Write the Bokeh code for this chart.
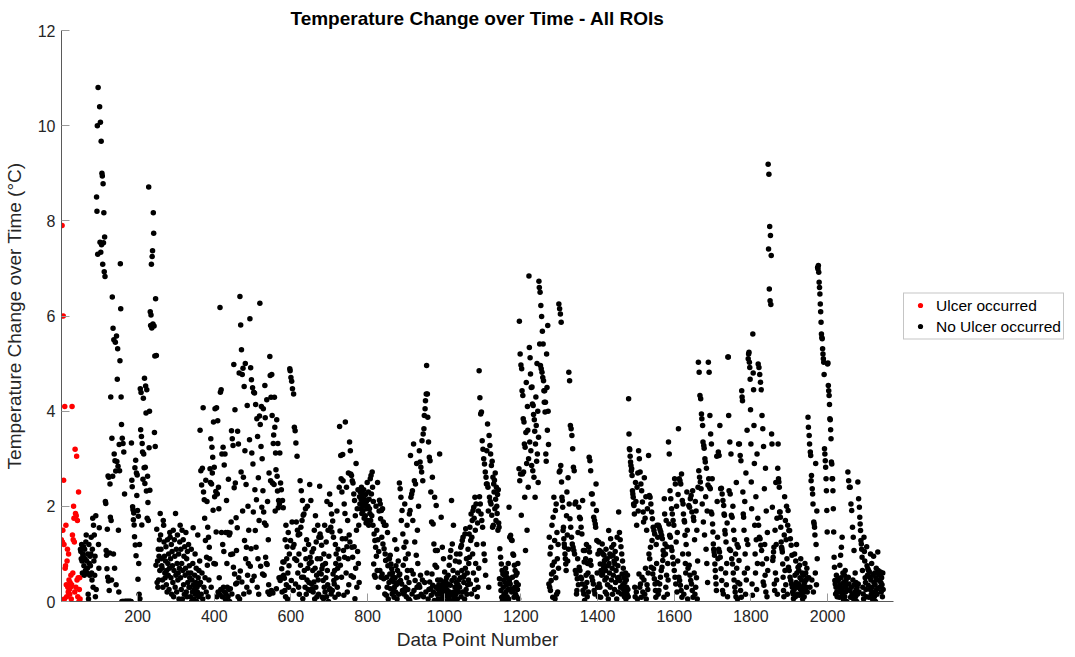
import numpy as np
from bokeh.plotting import figure
from bokeh.models import Range1d, Legend, LegendItem, FixedTicker
from bokeh.embed import file_html
from bokeh.resources import INLINE

# ---------------- data ----------------
# "Ulcer occurred" series: data points 1..50
ulcer_y = [1.3, 0.0, 7.9, 1.25, 1.5, 6.0, 2.55, 1.2, 0.05, 4.1,
           0.7, 0.75, 1.6, 0.35, 0.1, 0.85, 1.1, 0.3, 0.2, 1.0,
           0.45, 0.25, 0.15, 0.4, 0.3, 0.55, 0.05, 0.35, 4.1, 1.4,
           0.6, 1.3, 2.0, 1.75, 1.25, 0.2, 3.2, 1.85, 0.3, 1.8,
           3.05, 0.45, 1.7, 0.1, 0.5, 2.3, 0.0, 0.25, 0.5, 0.05]
ulcer_first_point = 1

# "No Ulcer occurred" series, consecutive data points starting at 51,
# split into segments of 260 points (first point number of each below)
no_ulcer_seg_a = [
    1.1, 1.05, 0.9, 1.2, 0.85, 0.6, 1.0, 0.95, 1.15, 0.75, 0.55, 1.1, 0.9, 0.65, 1.25, 1.4, 0.85, 0.6, 0.7, 1.0, 0.15, 0.05, 1.2, 0.8, 0.55, 0.95,
    0.75, 1.0, 1.35, 0.6, 0.45, 1.1, 1.75, 0.3, 1.6, 0.85, 1.4, 0.55, 0.95, 0.1, 1.8, 0.25, 8.5, 8.2, 10.0, 7.3, 10.8, 1.2, 0.7, 1.55, 10.4, 7.55,
    10.07, 7.34, 9.67, 7.5, 9.0, 8.94, 7.09, 8.78, 7.54, 8.17, 6.93, 7.66, 6.83, 2.1, 2.06, 1.07, 0.97, 0.69, 1.52, 0.51, 2.64, 0.43, 2.61, 0.23, 1.02, 2.47,
    1.77, 4.3, 1.7, 0.45, 3.43, 6.4, 2.63, 5.74, 1.0, 5.5, 3.1, 0.7, 2.96, 5.45, 2.74, 0.35, 5.58, 2.94, 4.67, 5.31, 2.84, 1.5, 0.2, 3.3, 2.75, 5.06,
    7.1, 6.15, 4.3, 3.72, 0.0, 3.43, 0.0, 3.32, 0.0, 3.14, 0.0, 2.26, 0.0, 0.0, 0.0, 0.0, 0.0, 0.0, 0.0, 0.0, 0.0, 0.0, 0.0, 0.0, 0.0, 0.0,
    0.0, 0.0, 0.0, 3.33, 2.55, 2.41, 1.99, 1.93, 1.72, 1.86, 1.61, 1.36, 2.81, 1.19, 2.97, 0.96, 2.7, 2.23, 2.66, 1.91, 0.47, 1.79, 0.8, 0.15, 1.2, 0.06,
    4.47, 3.61, 4.39, 3.47, 1.61, 3.32, 3.14, 2.57, 4.27, 3.1, 2.81, 4.69, 2.48, 2.82, 4.53, 3.96, 2.32, 4.45, 1.75, 2.63, 2.08, 1.7, 8.71, 3.23, 4.0, 2.34,
    6.09, 5.8, 6.02, 7.09, 5.75, 7.25, 7.37, 5.83, 8.17, 7.74, 5.79, 3.55, 5.16, 3.26, 6.36, 0.76, 5.17, 1.52, 0.4, 0.85, 0.3, 1.1, 0.45, 0.95, 1.3, 0.65,
    1.85, 1.4, 1.1, 0.9, 0.75, 0.7, 0.45, 0.3, 1.7, 1.6, 1.25, 0.95, 0.6, 0.5, 0.85, 1.15, 0.35, 0.65, 0.2, 1.3, 0.8, 0.55, 1.0, 0.25, 0.7, 1.45,
    1.35, 0.9, 0.5, 1.2, 0.15, 1.05, 0.75, 0.4, 1.5, 0.1, 0.65, 1.3, 0.95, 0.3, 1.85, 0.55, 1.1, 0.2, 0.8, 1.4, 0.45, 0.6, 1.0, 0.05, 0.7, 1.25,
]
no_ulcer_seg_b = [
    1.6, 0.5, 1.1, 0.25, 0.8, 1.5, 0.05, 0.65, 1.3, 0.35, 0.95, 0.15, 1.15, 0.55, 0.7, 1.45, 0.2, 0.9, 0.1, 1.05, 0.4, 0.6, 1.2, 0.3, 0.75, 0.5,
    0.3, 0.1, 0.6, 1.1, 0.0, 0.45, 0.2, 0.8, 1.55, 0.35, 0.05, 0.25, 0.55, 1.0, 0.15, 0.4, 0.7, 0.0, 0.3, 0.2, 1.4, 0.5, 0.1, 0.65, 0.35, 0.85,
    3.6, 0.4, 2.75, 0.15, 2.45, 0.6, 2.8, 0.05, 4.07, 2.3, 0.3, 2.14, 1.75, 0.5, 1.28, 2.55, 0.2, 0.93, 2.1, 0.76, 1.56, 0.1, 1.35, 0.45, 1.14, 0.9,
    2.79, 2.5, 3.42, 0.3, 2.47, 3.24, 2.7, 3.03, 1.92, 3.77, 0.8, 2.82, 2.2, 4.05, 0.79, 2.31, 1.46, 4.07, 0.1, 2.26, 3.8, 0.2, 2.4, 1.95, 0.5, 0.15,
    6.18, 4.4, 0.25, 4.45, 1.45, 3.1, 0.1, 1.2, 3.24, 0.3, 1.05, 2.87, 0.2, 3.1, 0.05, 1.45, 0.15, 2.12, 0.8, 0.3, 1.45, 0.1, 2.57, 0.25, 1.4, 0.0,
    1.44, 0.27, 0.99, 1.67, 3.59, 0.16, 3.42, 1.0, 3.28, 0.72, 4.98, 2.39, 0.58, 4.03, 2.49, 0.37, 1.76, 1.07, 0.39, 1.55, 3.58, 0.1, 3.31, 0.5, 4.8, 0.05,
    6.41, 0.64, 5.81, 2.72, 5.29, 0.41, 4.77, 1.9, 4.9, 2.61, 0.16, 4.52, 1.28, 3.17, 5.0, 0.9, 2.46, 1.14, 0.3, 4.12, 0.55, 2.0, 0.8, 1.5, 0.2, 3.4,
    5.94, 0.74, 4.91, 1.11, 4.66, 3.12, 0.44, 4.49, 2.89, 1.88, 4.4, 0.53, 4.38, 2.35, 1.49, 4.14, 1.14, 2.14, 3.84, 0.3, 3.47, 0.9, 2.6, 0.15, 1.7, 3.9,
    6.27, 3.72, 0.74, 3.26, 4.1, 1.98, 3.0, 0.58, 2.33, 4.05, 1.88, 0.55, 1.65, 4.54, 3.86, 0.93, 1.6, 0.8, 4.24, 0.78, 2.1, 0.2, 1.3, 0.35, 2.7, 0.15,
    5.15, 4.75, 2.54, 4.29, 0.23, 4.77, 3.91, 2.49, 0.18, 3.32, 3.5, 2.46, 4.29, 3.66, 1.9, 3.12, 2.77, 0.27, 3.82, 2.63, 2.32, 3.32, 1.97, 2.12, 0.5, 2.05,
]
no_ulcer_seg_c = [
    3.12, 0.44, 2.49, 0.51, 2.35, 0.69, 0.2, 2.12, 0.83, 1.97, 0.55, 0.83, 0.49, 0.23, 1.3, 0.1, 1.6, 0.35, 0.9, 1.15, 0.05, 0.6, 1.45, 0.3, 0.75, 1.0,
    4.89, 4.85, 1.28, 4.71, 0.44, 4.63, 1.67, 4.47, 1.14, 0.23, 4.36, 1.2, 3.66, 0.9, 3.59, 0.37, 3.33, 1.67, 0.86, 3.05, 1.5, 0.6, 1.4, 0.3, 1.0, 0.15,
    1.42, 2.54, 0.76, 1.56, 2.33, 0.51, 1.7, 2.12, 0.06, 1.81, 0.51, 1.84, 0.65, 1.1, 0.3, 1.95, 0.9, 0.15, 1.3, 0.45, 2.0, 0.7, 0.25, 1.2, 0.4, 0.8,
    2.46, 0.93, 0.23, 2.12, 0.83, 0.37, 1.04, 0.27, 0.65, 0.2, 1.11, 0.41, 1.5, 0.05, 0.7, 1.8, 0.3, 1.25, 0.55, 0.1, 0.9, 1.6, 0.45, 0.15, 1.35, 0.6,
    2.42, 1.42, 0.9, 1.35, 0.58, 1.18, 0.69, 0.09, 0.76, 0.44, 0.06, 1.0, 0.3, 1.6, 0.2, 0.8, 0.5, 1.25, 0.1, 2.1, 0.65, 0.35, 1.5, 0.0, 0.95, 0.25,
    2.26, 0.27, 2.04, 1.56, 0.16, 1.84, 1.46, 0.23, 1.69, 0.58, 1.35, 0.44, 0.37, 0.65, 0.09, 1.2, 0.8, 1.0, 0.5, 1.9, 0.3, 0.7, 1.1, 0.15, 0.9, 2.4,
    3.68, 1.48, 0.76, 3.07, 2.58, 0.51, 2.3, 1.32, 3.09, 2.54, 1.07, 0.13, 2.05, 0.93, 1.85, 3.77, 1.32, 0.6, 2.4, 1.15, 0.2, 1.7, 0.9, 2.7, 0.35, 1.4,
    3.35, 1.25, 3.17, 2.68, 0.54, 2.65, 1.14, 2.54, 0.93, 2.49, 0.51, 2.26, 1.15, 2.12, 0.06, 1.8, 0.7, 2.9, 1.5, 0.3, 1.95, 1.05, 2.35, 0.8, 1.6, 0.4,
    2.2, 2.05, 2.3, 1.95, 2.15, 2.4, 1.85, 2.1, 2.25, 1.9, 2.0, 2.35, 1.75, 2.15, 2.05, 1.8, 2.25, 1.65, 2.1, 1.95, 2.5, 1.7, 2.0, 2.3, 1.6, 2.15,
    1.95, 1.85, 2.58, 1.7, 2.65, 2.26, 1.8, 2.72, 2.4, 1.6, 2.1, 0.79, 1.42, 0.55, 1.28, 0.51, 1.14, 2.0, 0.95, 1.5, 0.65, 2.5, 1.3, 0.3, 1.05, 1.9,
]
no_ulcer_seg_d = [
    2.13, 0.65, 2.05, 1.74, 0.51, 1.91, 1.35, 0.58, 1.95, 1.21, 1.67, 0.48, 1.11, 1.6, 0.16, 1.0, 0.86, 1.6, 0.13, 0.51, 0.3, 1.45, 0.75, 0.05, 0.9, 0.4,
    0.9, 0.58, 0.97, 0.27, 0.79, 0.44, 0.69, 0.16, 0.6, 0.51, 0.23, 0.41, 0.09, 0.3, 1.3, 0.5, 0.2, 0.75, 0.35, 1.1, 0.05, 0.65, 0.4, 0.85, 0.15, 0.55,
    2.49, 0.58, 2.37, 0.44, 2.19, 1.7, 0.37, 1.91, 0.23, 1.42, 0.76, 0.16, 1.14, 0.2, 2.05, 0.3, 0.9, 1.25, 0.1, 0.5, 1.6, 0.65, 0.25, 1.0, 0.05, 0.4,
    1.84, 0.02, 1.91, 3.07, 2.19, 0.65, 2.26, 0.16, 2.33, 1.7, 0.58, 3.31, 0.23, 2.54, 1.25, 0.44, 2.47, 0.09, 0.97, 2.9, 0.3, 1.5, 0.8, 0.1, 2.0, 0.35,
    3.17, 0.3, 2.93, 0.55, 2.82, 0.15, 2.72, 3.38, 0.45, 2.54, 3.52, 0.1, 3.63, 3.91, 0.4, 4.05, 4.22, 0.2, 4.36, 4.96, 0.6, 4.36, 3.87, 0.05, 3.35, 0.25,
    3.03, 0.41, 2.96, 0.27, 2.3, 0.13, 1.67, 0.58, 2.61, 0.34, 1.63, 0.2, 1.21, 0.02, 2.19, 0.76, 1.07, 0.3, 2.02, 0.72, 0.15, 1.07, 0.45, 0.05, 0.25, 0.35,
    0.3, 3.1, 0.15, 0.45, 0.2, 1.77, 0.05, 0.35, 1.14, 0.25, 0.1, 0.9, 0.4, 0.2, 0.62, 0.0, 0.3, 0.44, 0.15, 0.5, 0.25, 0.1, 0.37, 0.55, 0.2, 0.06,
    0.76, 0.2, 0.93, 0.34, 1.07, 0.13, 2.12, 0.44, 1.21, 0.02, 0.65, 1.6, 0.2, 0.5, 0.1, 0.3, 0.85, 0.15, 0.4, 1.0, 0.25, 0.05, 0.6, 0.35, 0.2, 0.45,
    0.83, 0.3, 1.0, 0.5, 1.14, 0.1, 1.18, 0.65, 1.28, 0.2, 1.35, 0.51, 0.4, 0.55, 0.05, 1.42, 0.7, 1.53, 0.25, 0.9, 0.15, 0.6, 0.35, 1.1, 0.45, 0.8,
    1.42, 0.93, 1.56, 0.37, 1.28, 1.84, 0.16, 1.35, 1.7, 1.0, 1.91, 0.6, 1.98, 1.75, 0.25, 2.19, 1.5, 0.8, 2.05, 0.45, 1.2, 0.1, 1.65, 0.3, 1.9, 0.7,
]
no_ulcer_seg_e = [
    4.85, 2.2, 4.28, 2.05, 3.94, 1.84, 3.98, 1.7, 3.38, 1.56, 3.2, 1.21, 3.0, 1.0, 2.89, 0.86, 2.72, 0.55, 2.61, 2.47, 3.17, 2.47, 3.73, 2.4, 1.9, 0.3,
    3.49, 2.19, 3.28, 2.1, 3.1, 2.05, 2.86, 1.81, 2.95, 1.56, 2.61, 1.6, 2.47, 2.3, 2.55, 1.95, 2.7, 2.15, 1.7, 2.4, 2.0, 1.85, 2.25, 1.5, 2.35, 1.65,
    1.56, 0.48, 1.11, 0.37, 0.93, 0.23, 0.79, 0.09, 0.65, 0.02, 0.58, 0.3, 0.45, 0.15, 0.55, 0.05, 0.4, 0.7, 0.2, 0.6, 0.35, 0.1, 0.5, 0.25, 0.8, 0.05,
    1.98, 0.44, 1.35, 0.37, 1.39, 0.27, 1.3, 0.2, 1.28, 0.51, 1.0, 0.23, 0.97, 0.09, 0.76, 0.3, 0.65, 0.15, 0.55, 0.4, 0.1, 0.6, 0.25, 0.8, 0.35, 0.05,
    2.79, 5.89, 2.54, 5.2, 2.68, 4.97, 1.81, 4.89, 4.43, 2.68, 4.33, 3.84, 2.72, 3.77, 3.31, 2.19, 3.24, 1.07, 3.55, 4.6, 2.9, 1.5, 4.1, 3.6, 2.4, 3.0,
    6.84, 5.34, 3.35, 5.12, 4.78, 3.17, 4.5, 2.86, 4.51, 4.15, 2.75, 4.12, 3.93, 2.61, 3.82, 3.58, 2.19, 3.31, 4.3, 3.7, 2.95, 5.0, 3.1, 4.0, 2.5, 3.45,
    6.73, 6.6, 5.41, 6.5, 4.96, 6.22, 4.89, 5.99, 4.82, 5.68, 4.71, 5.41, 4.64, 4.43, 4.19, 4.43, 3.98, 4.19, 3.1, 2.95, 5.2, 4.5, 3.6, 5.8, 4.0, 3.3,
    0.37, 1.35, 0.3, 1.0, 0.23, 1.14, 0.44, 0.58, 1.6, 0.76, 0.09, 1.77, 0.62, 2.19, 0.83, 1.28, 0.06, 1.91, 0.5, 2.05, 0.15, 1.45, 0.9, 0.2, 1.2, 0.7,
    6.25, 2.72, 6.15, 2.75, 6.04, 2.86, 5.87, 2.51, 2.19, 2.12, 1.98, 1.49, 1.56, 1.32, 1.21, 1.14, 1.0, 0.9, 0.79, 0.65, 1.8, 2.3, 1.4, 0.85, 2.6, 1.1,
    4.82, 2.05, 4.64, 1.74, 3.7, 1.56, 3.63, 1.35, 3.49, 1.21, 3.21, 1.14, 2.82, 1.07, 2.75, 1.0, 2.05, 0.65, 2.09, 0.58, 0.16, 0.23, 0.48, 0.9, 1.45, 0.35,
]
no_ulcer_seg_f = [
    1.98, 0.72, 1.77, 0.65, 1.74, 0.51, 1.56, 0.48, 1.42, 0.37, 2.12, 0.23, 1.07, 0.16, 0.83, 0.02, 1.07, 0.3, 0.9, 0.55, 1.2, 0.4, 0.1, 0.8, 0.6, 0.2,
    1.14, 3.03, 1.04, 2.96, 0.86, 2.75, 0.76, 2.26, 0.51, 2.26, 0.44, 2.05, 0.37, 1.77, 0.23, 1.7, 0.16, 1.63, 1.56, 2.47, 1.91, 1.28, 0.6, 0.3, 1.0, 0.1,
    1.25, 0.37, 1.07, 0.3, 0.79, 0.09, 0.65, 1.04, 0.55, 1.21, 0.58, 1.0, 0.79, 0.72, 0.97, 0.86, 0.45, 0.2, 0.65, 1.1, 0.5, 0.15, 0.9, 0.35, 0.75, 0.05,
    1.49, 0.8, 0.6, 1.0, 0.3, 1.32, 0.95, 0.45, 1.14, 0.7, 0.15, 0.97, 0.55, 1.2, 0.85, 0.25, 0.79, 1.05, 0.4, 0.65, 0.9, 0.05, 1.35, 0.5, 0.75, 0.2,
    1.88, 0.51, 1.45, 0.44, 1.3, 0.3, 1.15, 0.16, 1.0, 0.58, 0.85, 0.35, 0.7, 0.25, 0.5, 0.1, 0.4, 0.2, 0.6, 0.05, 0.45, 0.3, 0.15, 0.55, 0.25, 0.1,
    4.26, 3.52, 3.21, 3.19, 3.05, 2.93, 2.86, 2.75, 2.79, 2.65, 2.33, 2.26, 2.19, 2.05, 2.02, 1.84, 0.3, 0.1, 2.5, 2.1, 0.2, 1.6, 2.4, 0.05, 2.7, 1.9,
    3.17, 0.58, 3.0, 0.3, 2.72, 0.37, 2.47, 0.09, 2.33, 0.51, 2.09, 0.2, 1.88, 1.67, 0.45, 2.6, 0.15, 1.75, 0.7, 2.2, 0.05, 1.5, 0.35, 1.95, 0.25, 0.6,
    3.07, 1.0, 2.23, 0.9, 2.19, 1.14, 2.05, 0.72, 1.88, 1.28, 1.74, 0.58, 1.56, 0.69, 1.49, 0.48, 1.42, 0.37, 0.23, 0.09, 1.2, 0.8, 1.6, 0.4, 1.35, 0.15,
    1.6, 0.23, 1.56, 0.37, 1.51, 0.51, 1.46, 0.65, 1.39, 0.72, 1.32, 0.86, 1.07, 0.97, 0.09, 2.16, 1.84, 1.21, 1.0, 0.3, 1.7, 0.55, 1.15, 0.15, 0.8, 0.45,
    3.35, 1.63, 3.1, 1.39, 2.33, 1.35, 2.16, 1.14, 1.95, 1.07, 1.84, 0.93, 1.7, 0.79, 1.6, 0.65, 2.58, 0.51, 2.47, 0.37, 1.25, 2.0, 0.2, 1.45, 0.85, 2.25,
]
no_ulcer_seg_g = [
    3.63, 0.51, 2.58, 0.44, 2.54, 0.34, 2.47, 0.23, 2.68, 0.09, 2.12, 1.0, 2.05, 1.84, 0.15, 1.7, 1.67, 1.39, 0.8, 0.6, 1.2, 0.3, 2.3, 1.5, 0.05, 0.7,
    1.0, 2.02, 0.76, 1.98, 0.55, 2.16, 0.44, 2.23, 0.37, 1.88, 0.23, 2.33, 0.09, 1.77, 1.7, 0.6, 1.3, 0.15, 2.1, 0.3, 1.9, 0.5, 1.5, 0.05, 0.85, 2.4,
    5.03, 2.75, 4.82, 2.61, 4.33, 2.51, 4.26, 2.37, 3.94, 3.84, 2.05, 3.7, 3.35, 1.67, 3.28, 3.22, 1.4, 3.0, 2.93, 2.2, 1.1, 2.8, 0.8, 1.9, 0.4, 2.45,
    5.03, 2.58, 4.82, 2.4, 3.91, 2.37, 3.52, 1.88, 3.31, 1.84, 2.58, 1.63, 1.46, 1.21, 1.1, 1.04, 0.97, 0.79, 0.65, 0.51, 0.37, 0.23, 3.05, 2.1, 1.35, 0.9,
    3.14, 1.1, 3.07, 1.04, 3.7, 0.93, 2.37, 0.69, 2.38, 0.44, 2.26, 0.23, 2.12, 0.16, 2.02, 1.84, 1.81, 1.49, 1.42, 0.6, 1.25, 0.35, 0.8, 1.65, 0.1, 5.14,
    5.14, 3.91, 2.33, 1.1, 3.35, 2.26, 1.07, 3.1, 1.81, 0.9, 1.77, 0.79, 2.0, 0.6, 1.5, 0.45, 1.3, 0.3, 0.2, 1.0, 0.1, 2.5, 0.7, 1.2, 0.05, 0.4,
    1.14, 3.31, 0.86, 3.31, 0.37, 3.07, 0.23, 2.96, 0.09, 4.43, 4.3, 4.22, 2.3, 1.84, 1.77, 1.5, 0.6, 2.1, 1.0, 0.15, 2.7, 0.45, 1.3, 3.6, 0.7, 1.2,
    5.1, 5.2, 5.24, 5.03, 4.92, 4.67, 4.03, 3.31, 2.51, 1.95, 0.37, 0.13, 5.62, 4.8, 4.45, 3.7, 2.9, 1.6, 1.0, 0.6, 2.2, 1.3, 0.25, 3.1, 0.8, 1.75,
    4.99, 1.6, 4.92, 1.35, 4.77, 1.32, 4.61, 1.18, 4.45, 1.07, 3.91, 0.79, 3.63, 0.41, 3.26, 0.34, 2.37, 1.2, 0.55, 2.8, 0.2, 1.9, 0.9, 0.1, 1.45, 0.65,
    9.19, 7.41, 8.98, 6.57, 7.88, 6.32, 7.69, 6.24, 7.27, 3.52, 3.31, 1.98, 0.86, 0.93, 1.04, 1.14, 0.37, 0.23, 1.5, 0.6, 2.5, 1.2, 0.45, 1.75, 0.15, 2.8,
]
no_ulcer_seg_h = [
    3.31, 2.58, 2.51, 2.4, 1.88, 1.88, 1.77, 1.56, 1.25, 1.14, 1.1, 1.04, 0.79, 0.51, 0.23, 0.1, 1.4, 2.2, 0.65, 1.7, 0.35, 1.3, 2.0, 0.9, 0.15, 1.6,
    1.91, 0.72, 1.49, 0.65, 1.49, 0.51, 1.32, 0.44, 1.18, 0.37, 0.97, 0.3, 0.2, 0.16, 0.06, 0.33, 0.25, 1.0, 0.55, 0.1, 0.85, 0.4, 1.2, 0.6, 0.15, 0.3,
    0.72, 0.37, 0.65, 0.13, 0.76, 0.5, 0.25, 0.9, 0.15, 0.45, 0.3, 0.6, 0.05, 0.2, 0.55, 0.35, 0.1, 0.4, 0.8, 0.25, 0.6, 0.45, 0.3, 0.7, 0.2, 0.5,
    3.87, 3.66, 0.5, 3.49, 3.31, 0.3, 3.14, 3.07, 2.54, 2.65, 0.45, 2.37, 2.26, 2.05, 0.2, 1.67, 1.63, 1.56, 1.4, 0.6, 2.9, 1.2, 0.35, 1.9, 0.9, 7.02,
    6.99, 7.06, 6.92, 6.71, 6.6, 6.46, 6.25, 6.09, 5.87, 5.62, 5.55, 5.52, 5.31, 5.2, 5.1, 5.03, 4.77, 3.21, 3.1, 2.96, 2.82, 2.58, 2.33, 1.91, 1.46, 4.99,
    5.01, 4.54, 4.43, 4.33, 4.14, 3.84, 3.82, 3.61, 3.42, 2.93, 2.89, 2.58, 2.58, 2.33, 1.95, 1.46, 0.93, 0.72, 0.44, 0.37, 0.16, 0.3, 0.55, 0.2, 0.1, 0.45,
    0.48, 0.44, 0.3, 0.2, 0.09, 0.76, 0.35, 0.97, 0.5, 1.14, 0.25, 1.35, 0.15, 0.6, 0.05, 0.4, 0.3, 0.55, 0.1, 0.65, 0.2, 0.45, 0.35, 0.0, 0.25, 0.5,
    2.72, 0.51, 2.54, 0.37, 2.4, 0.23, 2.4, 0.09, 2.05, 0.3, 1.91, 0.15, 1.56, 0.45, 1.35, 0.05, 1.07, 0.35, 0.2, 0.6, 0.1, 0.4, 0.25, 0.0, 0.3, 0.15,
    2.51, 0.37, 2.16, 0.2, 1.98, 1.77, 1.63, 1.49, 1.28, 1.21, 1.1, 0.93, 0.65, 0.3, 0.16, 0.05, 1.35, 1.05, 0.85, 0.5, 0.4, 0.25, 0.1, 1.15, 0.75, 0.55,
    0.69, 0.34, 0.65, 0.09, 0.62, 0.51, 0.25, 1.0, 0.45, 0.15, 0.8, 0.3, 0.05, 0.55, 0.2, 0.95, 0.4, 0.1, 0.6, 0.35, 0.0, 0.5, 0.7, 0.25, 0.15, 0.45,
    1.04, 0.65, 0.58, 0.6, 0.45, 0.3, 0.55, 0.62, 0.4, 0.2, 0.5, 0.35, 0.1, 0.6, 0.25,
]
no_ulcer_segments = [no_ulcer_seg_a, no_ulcer_seg_b, no_ulcer_seg_c, no_ulcer_seg_d,
                     no_ulcer_seg_e, no_ulcer_seg_f, no_ulcer_seg_g, no_ulcer_seg_h]
no_ulcer_seg_first_point = [51, 311, 571, 831, 1091, 1351, 1611, 1871]

x_tick_values = [200, 400, 600, 800, 1000, 1200, 1400, 1600, 1800, 2000]
y_tick_values = [0, 2, 4, 6, 8, 10, 12]

title_text = "Temperature Change over Time - All ROIs"
x_label = "Data Point Number"
y_label = "Temperature Change over Time (\u00b0C)"
legend_labels = ["Ulcer occurred", "No Ulcer occurred"]

# ---------------- build arrays ----------------
ux = np.arange(ulcer_first_point, ulcer_first_point + len(ulcer_y))
nx_parts, ny_parts = [], []
for seg, start in zip(no_ulcer_segments, no_ulcer_seg_first_point):
    nx_parts.append(np.arange(start, start + len(seg)))
    ny_parts.append(np.array(seg))
nx = np.concatenate(nx_parts)
ny = np.concatenate(ny_parts)

FONT = "Liberation Sans"
TXT = "#262626"

p = figure(frame_width=832, frame_height=571, output_backend="svg", toolbar_location=None,
           x_range=Range1d(1.5, 2172), y_range=Range1d(0, 12),
           min_border_left=59, min_border_right=0, min_border_top=30,
           min_border_bottom=56, title=title_text)
p.background_fill_color = "white"
p.border_fill_color = "white"
p.outline_line_color = None
p.xgrid.visible = False
p.ygrid.visible = False

p.title.text_font = FONT
p.title.text_font_size = "19px"
p.title.text_font_style = "bold"
p.title.text_color = "#000000"
p.title.align = "center"
p.title.standoff = 4
p.title.offset = 0

for ax in (p.xaxis[0], p.yaxis[0]):
    ax.axis_line_color = "#5a5a5a"
    ax.axis_line_width = 1
    ax.major_tick_line_color = "#9a9a9a"
    ax.major_tick_in = 8
    ax.major_tick_out = 0
    ax.minor_tick_line_color = None
    ax.major_label_text_font = FONT
    ax.major_label_text_font_size = "16px"
    ax.major_label_text_color = TXT
    ax.axis_label_text_font = FONT
    ax.axis_label_text_font_size = "19px"
    ax.axis_label_text_font_style = "normal"
    ax.axis_label_text_color = TXT

p.xaxis.ticker = FixedTicker(ticks=x_tick_values)
p.yaxis.ticker = FixedTicker(ticks=y_tick_values)
p.xaxis.axis_label = x_label
p.yaxis.axis_label = y_label
p.xaxis.major_label_standoff = 8
p.yaxis.major_label_standoff = 6
p.xaxis.axis_label_standoff = 4
p.yaxis.axis_label_standoff = 10

r_ulcer = p.scatter(ux, ulcer_y, size=5.5, color="#FF0000", line_color=None)
r_no = p.scatter(nx, ny, size=5.5, color="#000000", line_color=None)

legend = Legend(items=[LegendItem(label=legend_labels[0], renderers=[r_ulcer]),
                       LegendItem(label=legend_labels[1], renderers=[r_no])],
                location="center_left", orientation="vertical")
legend.border_line_color = "#8c8c8c"
legend.border_line_width = 1
legend.background_fill_color = "white"
legend.background_fill_alpha = 1.0
legend.label_text_font = FONT
legend.label_text_font_size = "15.5px"
legend.label_text_color = "#000000"
legend.padding = 2
legend.spacing = 1
legend.margin = 10
legend.label_height = 20
legend.glyph_height = 13
legend.glyph_width = 28
legend.label_standoff = 2
p.add_layout(legend, "right")

open("out.html", "w").write(file_html(p, INLINE))
